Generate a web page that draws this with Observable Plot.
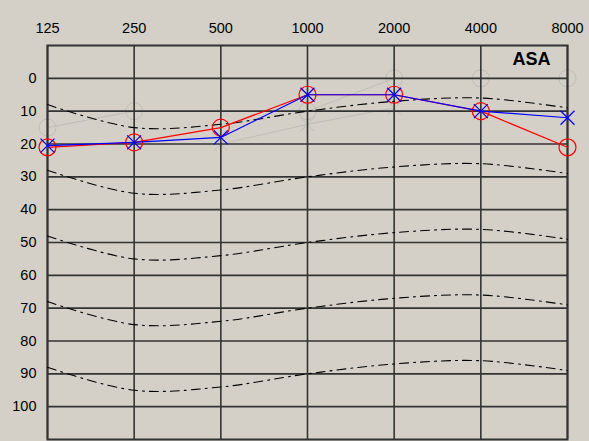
<!DOCTYPE html>
<html><head><meta charset="utf-8">
<script src="https://cdn.jsdelivr.net/npm/d3@7"></script>
<script src="https://cdn.jsdelivr.net/npm/@observablehq/plot@0.6"></script>
<style>
html,body{margin:0;padding:0;background:#d4d0c8;overflow:hidden;}
</style></head><body><div id="chart"></div>
<script>
// Frequencies (Hz) and tick labels
const freqs = [125, 250, 500, 1000, 2000, 4000, 8000];
const freqLabels = ["125", "250", "500", "1000", "2000", "4000", "8000"];
const levelTicks = [0, 10, 20, 30, 40, 50, 60, 70, 80, 90, 100];
// Series (dB HL)
const redValues = [21, 19.5, 15, 5, 5, 10, 21];
const blueValues = [20.5, 19.5, 18, 5, 5, 10, 12];
// Dash-dot reference contours: base shape plus offsets
const contourBase = [8, 15, 14, 10, 7, 6, 9];
const contourOffsets = [0, 20, 40, 60, 80];
// Faint background (previous) symbols
const ghostCircleFreqs = [125, 250, 1000, 2000, 4000, 8000];
const ghostCircleValues = [15, 10, 10, 0, 0, 0];
const ghostCrossFreqs = [500, 1000, 2000];
const ghostCrossValues = [20, 14, 9];
const cornerLabel = "ASA";

const red = freqs.map((f, i) => ({f, v: redValues[i]}));
const blue = freqs.map((f, i) => ({f, v: blueValues[i]}));
const contours = contourOffsets.flatMap(o => freqs.map((f, i) => ({f, v: contourBase[i] + o, k: o})));
const ghostC = ghostCircleFreqs.map((f, i) => ({f, v: ghostCircleValues[i]}));
const ghostX = ghostCrossFreqs.map((f, i) => ({f, v: ghostCrossValues[i]}));
const xLabels = freqs.map((f, i) => ({f, t: freqLabels[i]}));

const gridStyle = {stroke: "#333", strokeOpacity: 1, strokeWidth: 1.6};
const ghostColor = "#bfbdb8";

const chart = Plot.plot({
  width: 589,
  height: 441,
  marginTop: 45,
  marginBottom: 2,
  marginLeft: 47,
  marginRight: 22,
  style: {background: "#d4d0c8", fontFamily: "Arial, 'Liberation Sans', sans-serif", fontSize: "14.5px", color: "#000"},
  x: {type: "log", domain: [125, 8000], axis: null},
  y: {domain: [-10, 110], reverse: true, axis: null},
  marks: [
    Plot.line(ghostC, {x: "f", y: "v", stroke: ghostColor, strokeWidth: 1}),
    Plot.dot(ghostC, {x: "f", y: "v", r: 8.5, stroke: ghostColor, strokeWidth: 1}),
    Plot.line(ghostX, {x: "f", y: "v", stroke: ghostColor, strokeWidth: 1}),
    Plot.dot(ghostX, {x: "f", y: "v", r: 6.4, symbol: "times", stroke: ghostColor, strokeWidth: 1}),
    Plot.gridX(freqs, gridStyle),
    Plot.gridY(levelTicks, gridStyle),
    Plot.frame({stroke: "#333", strokeWidth: 2}),
    Plot.line(contours, {x: "f", y: "v", z: "k", curve: "catmull-rom", stroke: "#000", strokeWidth: 1.1, strokeDasharray: "9,5,2,5"}),
    Plot.line(red, {x: "f", y: "v", stroke: "#ff0000", strokeWidth: 1.2}),
    Plot.dot(red, {x: "f", y: "v", r: 8.5, stroke: "#ff0000", strokeWidth: 1.2}),
    Plot.line(blue, {x: "f", y: "v", stroke: "#0000ff", strokeWidth: 1.2}),
    Plot.dot(blue, {x: "f", y: "v", r: 6.4, symbol: "times", stroke: "#0000ff", strokeWidth: 1.2}),
    Plot.text(xLabels, {x: "f", text: "t", frameAnchor: "top", lineAnchor: "middle", dy: -17, fontSize: 14.5}),
    Plot.axisY(levelTicks, {anchor: "left", tickSize: 0, tickPadding: 11, label: null, fontSize: 14.5}),
    Plot.text([cornerLabel], {frameAnchor: "top-right", text: d => d, textAnchor: "end", lineAnchor: "middle", dx: -17, dy: 14, fontSize: 18, fontWeight: "bold"})
  ]
});
document.getElementById("chart").appendChild(chart);
</script>
</body></html>
